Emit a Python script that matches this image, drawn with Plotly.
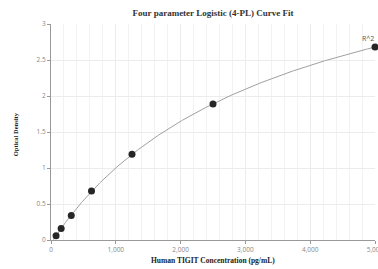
import numpy as np
import plotly.graph_objects as go

# Data
conc = [78.125, 156.25, 312.5, 625, 1250, 2500, 5000]
od = [0.06, 0.16, 0.34, 0.68, 1.19, 1.89, 2.68]
title = "Four parameter Logistic (4-PL) Curve Fit"
x_title = "Human TIGIT Concentration (pg/mL)"
y_title = "Optical Density"

# 4PL fit: y = d + (a - d) / (1 + (x/c)^b); grid over b, c, linear LS for a, d
x = np.array(conc, dtype=float)
y = np.array(od, dtype=float)
best = None
for b in np.linspace(0.5, 2.0, 151):
    for c in np.logspace(2.5, 5, 251):
        g = 1.0 / (1.0 + (x / c) ** b)
        A = np.vstack([g, 1 - g]).T
        coef, *_ = np.linalg.lstsq(A, y, rcond=None)
        err = np.sum((A @ coef - y) ** 2)
        if best is None or err < best[0]:
            best = (err, b, c, coef[0], coef[1])
_, b, c, a, d = best
xf = np.linspace(conc[0] * 0.5, conc[-1], 300)
yf = d + (a - d) / (1 + (xf / c) ** b)

fig = go.Figure()
fig.add_trace(go.Scatter(x=xf, y=yf, mode="lines", cliponaxis=False,
                         line=dict(color="#a0a0a0", width=1), hoverinfo="skip"))
fig.add_trace(go.Scatter(x=conc, y=od, mode="markers", cliponaxis=False,
                         marker=dict(color="#262626", size=7)))
fig.add_annotation(x=conc[-1], y=od[-1], text="R^2", showarrow=False,
                   xanchor="right", yanchor="bottom", yshift=2, xshift=1,
                   font=dict(family="Open Sans, Arial", size=7, color="#555"))
fig.add_annotation(xref="paper", yref="paper", x=0.5, y=-0.093, text="<b>" + x_title + "</b>",
                   showarrow=False, xanchor="center", yanchor="middle",
                   font=dict(family="Liberation Serif", size=7.5, color="#222"))
fig.add_annotation(xref="paper", yref="paper", x=-0.111, y=0.49, text="<b>" + y_title + "</b>",
                   showarrow=False, xanchor="center", yanchor="middle", textangle=-90,
                   font=dict(family="Liberation Serif", size=6.5, color="#222"))

fig.update_layout(
    width=378, height=269,
    margin=dict(l=51, r=3, t=24, b=29, autoexpand=False),
    paper_bgcolor="white", plot_bgcolor="white",
    showlegend=False,
    title=dict(text="<b>" + title + "</b>", x=0.5635, xanchor="center",
               y=0.952, yanchor="middle",
               font=dict(family="Liberation Serif", size=9, color="#333")),
    xaxis=dict(range=[0, 5000], dtick=1000, tickformat=",", showline=True,
               linecolor="#999", linewidth=1, ticks="outside", ticklen=3,
               tickcolor="#999", showgrid=True, gridcolor="#ececec",
               minor=dict(dtick=200, showgrid=True, gridcolor="#f2f2f2"),
               zeroline=False, automargin=False, ticklabeloverflow="allow",
               tickfont=dict(family="Open Sans, Arial", size=6.5, color="#888")),
    yaxis=dict(range=[0, 3], dtick=0.5, showline=True, linecolor="#999",
               linewidth=1, ticks="outside", ticklen=3, tickcolor="#999",
               showgrid=True, gridcolor="#ececec", zeroline=False,
               automargin=False,
               tickfont=dict(family="Open Sans, Arial", size=6.5, color="#888")),
)
fig.write_html("out.html", config={"displayModeBar": False},
               post_script="document.body.style.margin='0';")
